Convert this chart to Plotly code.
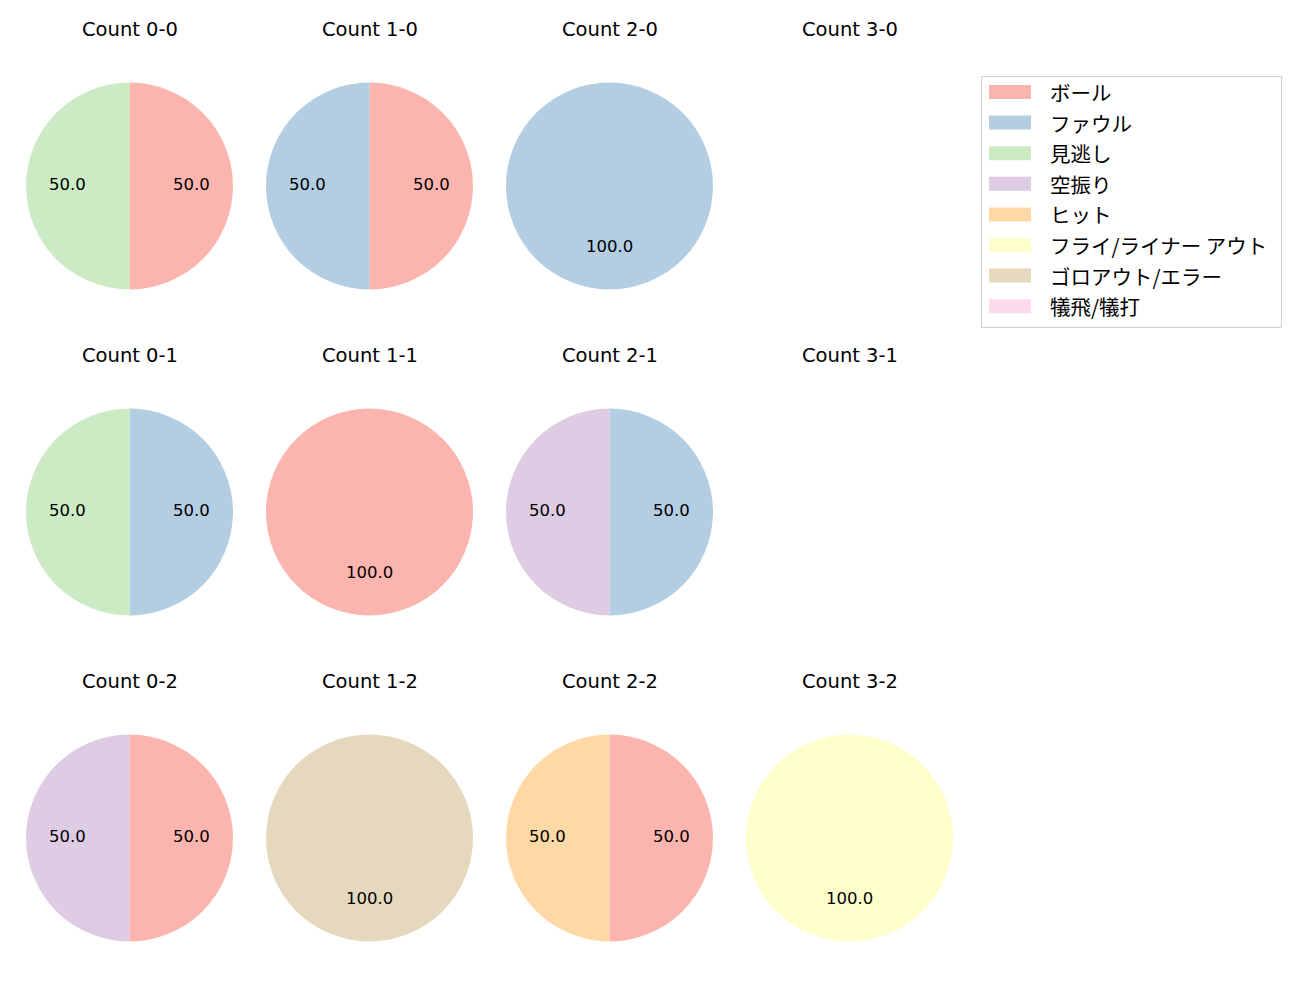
import plotly.graph_objects as go
import math

categories = ["ボール", "ファウル", "見逃し", "空振り", "ヒット", "フライ/ライナー アウト", "ゴロアウト/エラー", "犠飛/犠打"]
colors = ["#fbb4ae", "#b3cde3", "#ccebc5", "#decbe4", "#fed9a6", "#ffffcc", "#e5d8bd", "#fddaec"]

count_labels = ["0-0", "1-0", "2-0", "3-0",
                "0-1", "1-1", "2-1", "3-1",
                "0-2", "1-2", "2-2", "3-2"]
# values per count, in category order
count_values = [
    [1, 0, 1, 0, 0, 0, 0, 0],  # 0-0
    [1, 1, 0, 0, 0, 0, 0, 0],  # 1-0
    [0, 1, 0, 0, 0, 0, 0, 0],  # 2-0
    [0, 0, 0, 0, 0, 0, 0, 0],  # 3-0
    [0, 1, 1, 0, 0, 0, 0, 0],  # 0-1
    [1, 0, 0, 0, 0, 0, 0, 0],  # 1-1
    [0, 1, 0, 1, 0, 0, 0, 0],  # 2-1
    [0, 0, 0, 0, 0, 0, 0, 0],  # 3-1
    [1, 0, 0, 1, 0, 0, 0, 0],  # 0-2
    [0, 0, 0, 0, 0, 0, 1, 0],  # 1-2
    [1, 0, 0, 0, 1, 0, 0, 0],  # 2-2
    [0, 0, 0, 0, 0, 1, 0, 0],  # 3-2
]

W, H = 1300, 1000
LATIN = "DejaVu Sans"
JP = "Noto Sans CJK JP"
col_x = [129.5, 369.5, 609.5, 849.5]
row_y = [186, 512, 838]
R = 103.5

fig = go.Figure()
annotations = []
shapes = []

def px(x):
    return x / W

def py(y):
    return 1 - y / H

for i, (lab, vals) in enumerate(zip(count_labels, count_values)):
    cx = col_x[i % 4]
    cy = row_y[i // 4]
    annotations.append(dict(x=px(cx), y=py(cy - 157), xref="paper", yref="paper",
                            text="Count " + lab, showarrow=False,
                            font=dict(size=19.5, color="#000", family=LATIN),
                            xanchor="center", yanchor="middle"))
    total = sum(vals)
    if total == 0:
        continue
    fig.add_trace(go.Pie(
        labels=categories, values=vals, sort=False, direction="clockwise", rotation=0,
        marker=dict(colors=colors, line=dict(width=0)),
        textinfo="none", hoverinfo="label+percent", showlegend=False,
        domain=dict(x=[px(cx - R), px(cx + R)], y=[py(cy + R), py(cy - R)]),
    ))
    cum = 0
    for v in vals:
        if v > 0:
            frac = v / total
            th = 2 * math.pi * (cum + frac / 2)
            tx = cx + 0.6 * R * math.sin(th)
            ty = cy - 0.6 * R * math.cos(th)
            annotations.append(dict(x=px(tx), y=py(ty - 1.5), xref="paper", yref="paper",
                                    text=f"{frac*100:.1f}", showarrow=False,
                                    font=dict(size=16.5, color="#000", family=LATIN),
                                    xanchor="center", yanchor="middle"))
        cum += v / total

# legend
lx0, ly0, lx1, ly1 = 981.5, 76.5, 1281.5, 327.5
shapes.append(dict(type="rect", xref="paper", yref="paper",
                   x0=px(lx0), x1=px(lx1), y0=py(ly1), y1=py(ly0),
                   line=dict(color="#d0d0d0", width=1), fillcolor="rgba(255,255,255,0.8)"))
entry_y0 = 92
entry_dy = 30.6
for k, (c, col) in enumerate(zip(categories, colors)):
    ey = entry_y0 + k * entry_dy
    shapes.append(dict(type="rect", xref="paper", yref="paper",
                       x0=px(989), x1=px(1031), y0=py(ey + 7), y1=py(ey - 7),
                       line=dict(width=0), fillcolor=col))
    annotations.append(dict(x=px(1048), y=py(ey), xref="paper", yref="paper",
                            text=c, showarrow=False,
                            font=dict(size=20.5, color="#000", family=JP),
                            xanchor="left", yanchor="middle"))

fig.update_layout(width=W, height=H, margin=dict(l=0, r=0, t=0, b=0),
                  paper_bgcolor="white", plot_bgcolor="white",
                  annotations=annotations, shapes=shapes, showlegend=False,
                  font=dict(family=LATIN))
fig.write_html("out.html")
